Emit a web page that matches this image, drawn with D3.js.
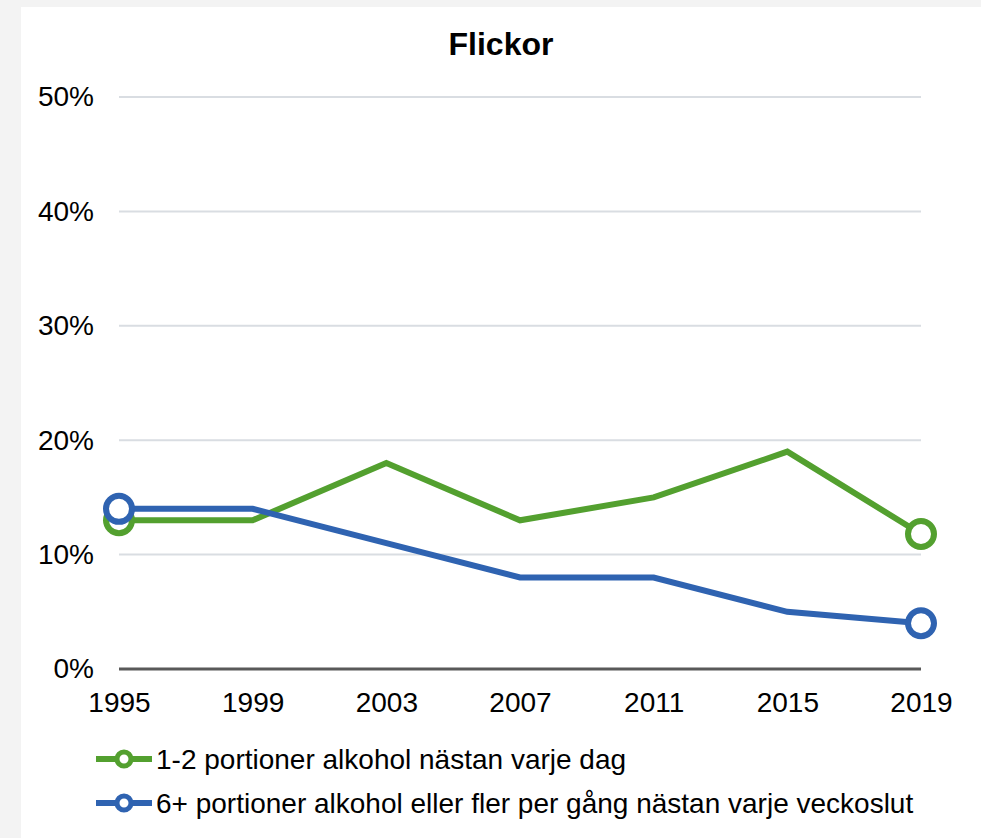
<!DOCTYPE html>
<html><head><meta charset="utf-8">
<script src="https://cdn.jsdelivr.net/npm/d3@7"></script>
<style>
html,body{margin:0;padding:0;background:#f3f3f3;}
svg{display:block;font-family:"Liberation Sans",Arial,sans-serif;}
</style></head>
<body>
<svg id="chart" width="981" height="838"></svg>
<script>
const years = [1995, 1999, 2003, 2007, 2011, 2015, 2019];
const seriesNames = ["1-2 portioner alkohol nästan varje dag", "6+ portioner alkohol eller fler per gång nästan varje veckoslut"];
const dailyValues = [13, 13, 18, 13, 15, 19, 11.8];
const weekendValues = [14, 14, 11, 8, 8, 5, 4];
const yTicks = [0, 10, 20, 30, 40, 50];
const colors = ["#53a02f", "#2f63b1"];
const title = "Flickor";

const svg = d3.select("#chart");
svg.append("rect").attr("x", 21).attr("y", 7).attr("width", 960).attr("height", 831).attr("fill", "#fff");

const x = d3.scalePoint().domain(years).range([119, 921]);
const y = d3.scaleLinear().domain([0, 50]).range([669, 97]);

svg.append("text").attr("x", 501).attr("y", 55).attr("text-anchor", "middle")
  .attr("font-weight", "bold").attr("font-size", 32).attr("fill", "#000").text(title);

// grid
const yAxis = d3.axisLeft(y).tickValues(yTicks).tickFormat(d => d + "%").tickSize(0).tickPadding(25);
const gy = svg.append("g").attr("transform", "translate(119,0)").call(yAxis);
gy.select(".domain").remove();
gy.selectAll("text").attr("font-size", 28).attr("fill", "#000").attr("font-family", "'Liberation Sans',Arial,sans-serif");
svg.append("g").selectAll("line").data(yTicks.filter(d => d > 0)).join("line")
  .attr("x1", 119).attr("x2", 921).attr("y1", d => y(d)).attr("y2", d => y(d))
  .attr("stroke", "#d9dde2").attr("stroke-width", 2);
svg.append("line").attr("x1", 119).attr("x2", 921).attr("y1", y(0)).attr("y2", y(0))
  .attr("stroke", "#595959").attr("stroke-width", 3);

const xAxis = d3.axisBottom(x).tickSize(0).tickPadding(23);
const gx = svg.append("g").attr("transform", `translate(0,${y(0)})`).call(xAxis);
gx.select(".domain").remove();
gx.selectAll("text").attr("font-size", 28).attr("fill", "#000").attr("font-family", "'Liberation Sans',Arial,sans-serif");

const data = [dailyValues, weekendValues];
const line = d3.line().x((d, i) => x(years[i])).y(d => y(d));
data.forEach((vals, k) => {
  svg.append("path").datum(vals).attr("d", line).attr("fill", "none")
    .attr("stroke", colors[k]).attr("stroke-width", 6).attr("stroke-linejoin", "miter");
});
data.forEach((vals, k) => {
  const pts = [0, vals.length - 1];
  svg.append("g").selectAll("circle").data(pts).join("circle")
    .attr("cx", i => x(years[i])).attr("cy", i => y(vals[i])).attr("r", 13)
    .attr("fill", "#fff").attr("stroke", colors[k]).attr("stroke-width", 6);
});

// legend
const leg = svg.append("g");
seriesNames.forEach((name, k) => {
  const ly = 759 + k * 44;
  leg.append("line").attr("x1", 96).attr("x2", 152).attr("y1", ly).attr("y2", ly)
    .attr("stroke", colors[k]).attr("stroke-width", 6);
  leg.append("circle").attr("cx", 124).attr("cy", ly).attr("r", 7)
    .attr("fill", "#fff").attr("stroke", colors[k]).attr("stroke-width", 5);
  leg.append("text").attr("x", 156).attr("y", ly).attr("dy", "0.35em")
    .attr("font-size", 28).attr("fill", "#000").text(name);
});
</script>
</body></html>
